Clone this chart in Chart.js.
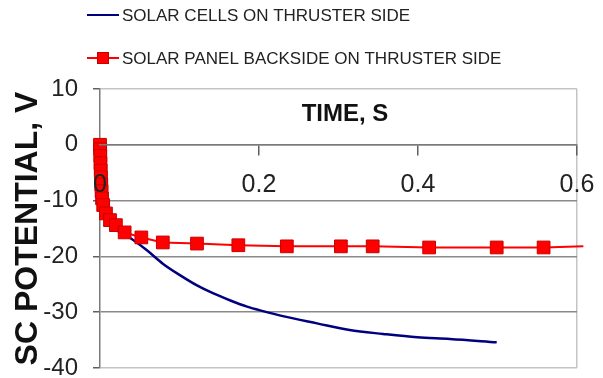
<!DOCTYPE html>
<html>
<head>
<meta charset="utf-8">
<script src="https://cdn.jsdelivr.net/npm/chart.js@4.4.1/dist/chart.umd.min.js"></script>
<style>
  html, body { margin: 0; padding: 0; background: #fff; }
  #wrap { width: 603px; height: 378px; position: relative; }
</style>
</head>
<body>
<div id="wrap"><canvas id="c"></canvas></div>
<script>
// Spacecraft potential after thruster start: solar cells vs. panel backside
const cellsTime = [0, 0.001, 0.002, 0.004, 0.006, 0.01, 0.016, 0.025, 0.038, 0.059, 0.079, 0.101, 0.122, 0.142, 0.164, 0.185, 0.205, 0.23, 0.273, 0.314, 0.356, 0.399, 0.44, 0.499];
const cellsPotential = [0, -3, -6, -9, -11, -13, -14.6, -15.7, -16.7, -18.9, -21.3, -23.4, -25.2, -26.6, -27.9, -29.0, -29.8, -30.7, -32.0, -33.2, -33.9, -34.5, -34.8, -35.4];

const backsideTime = [0, 0.0002, 0.0004, 0.0006, 0.0009, 0.0012, 0.0016, 0.002, 0.0026, 0.004, 0.0075, 0.0126, 0.02, 0.031, 0.052, 0.079, 0.122, 0.174, 0.235, 0.303, 0.343, 0.414, 0.499, 0.558, 0.608];
const backsidePotential = [0, -0.8, -2.0, -3.3, -4.6, -5.8, -7.1, -8.3, -9.6, -10.8, -12.3, -13.5, -14.4, -15.7, -16.6, -17.5, -17.7, -18.0, -18.2, -18.2, -18.2, -18.4, -18.4, -18.4, -18.2];

const timeTicks = [0, 0.2, 0.4, 0.6];
const potentialTicks = [10, 0, -10, -20, -30, -40];
const seriesNames = ['SOLAR CELLS ON THRUSTER SIDE', 'SOLAR PANEL BACKSIDE ON THRUSTER SIDE'];
const timeTitle = 'TIME, S';
const potentialTitle = 'SC POTENTIAL, V';

const FONT = "'Liberation Sans', Arial, sans-serif";
const toPoints = (ts, vs) => ts.map((t, i) => ({ x: t, y: vs[i] }));

// Two-row legend above the plot, one series per row
const stackedLegend = {
  id: 'stackedLegend',
  afterDraw(chart) {
    const ctx = chart.ctx;
    const rowY = [15, 58];
    ctx.save();
    chart.data.datasets.forEach((ds, i) => {
      const y = rowY[i];
      ctx.strokeStyle = ds.borderColor;
      ctx.lineWidth = 2;
      ctx.beginPath();
      ctx.moveTo(87, y);
      ctx.lineTo(119, y);
      ctx.stroke();
      if (ds.pointStyle === 'rect') {
        ctx.fillStyle = ds.pointBackgroundColor;
        ctx.fillRect(97, y - 6, 12, 12);
        ctx.strokeStyle = ds.pointBorderColor;
        ctx.lineWidth = 1;
        ctx.strokeRect(97.5, y - 5.5, 11, 11);
      }
      ctx.fillStyle = '#222';
      ctx.font = '17px ' + FONT;
      ctx.textBaseline = 'middle';
      ctx.textAlign = 'left';
      ctx.fillText(ds.label, 122, y + 1);
    });
    ctx.restore();
  }
};

// Horizontal-axis title placed inside the plot, above the zero line
const timeAxisTitle = {
  id: 'timeAxisTitle',
  afterDraw(chart) {
    const { ctx, chartArea } = chart;
    ctx.save();
    ctx.font = 'bold 24px ' + FONT;
    ctx.fillStyle = '#111';
    ctx.textAlign = 'center';
    ctx.textBaseline = 'middle';
    ctx.fillText(timeTitle, chartArea.left + 245, chartArea.top + 25);
    ctx.restore();
  }
};

new Chart(document.getElementById('c'), {
  type: 'scatter',
  data: {
    datasets: [
      {
        label: seriesNames[0],
        data: toPoints(cellsTime, cellsPotential),
        showLine: true,
        borderColor: '#000080',
        borderWidth: 2.5,
        pointRadius: 0,
        cubicInterpolationMode: 'monotone',
        order: 1,
        clip: false
      },
      {
        label: seriesNames[1],
        data: toPoints(backsideTime, backsidePotential),
        showLine: true,
        borderColor: '#ff0000',
        borderWidth: 2,
        pointStyle: 'rect',
        pointRadius: c => (c.dataIndex === backsideTime.length - 1 ? 0 : 9),
        pointBackgroundColor: '#ff0000',
        pointBorderColor: '#c80000',
        pointBorderWidth: 1,
        order: 0,
        clip: false
      }
    ]
  },
  options: {
    responsive: true,
    maintainAspectRatio: false,
    animation: false,
    devicePixelRatio: 1,
    layout: { padding: { top: 89, right: 26, bottom: 10, left: 0 } },
    plugins: {
      legend: { display: false },
      tooltip: { enabled: false }
    },
    scales: {
      x: {
        type: 'linear',
        position: { y: 0 },
        min: 0,
        max: 0.6,
        afterBuildTicks: s => { s.ticks = timeTicks.map(v => ({ value: v })); },
        afterFit: s => { s.paddingLeft = 0; s.paddingRight = 0; },
        ticks: {
          font: { size: 25, family: FONT },
          color: '#222',
          padding: 15,
          maxRotation: 0,
          autoSkip: false,
          z: 1,
          callback: v => String(v)
        },
        grid: {
          color: c => (c.tick && c.tick.value === 0.6 ? '#c4c4c4' : 'rgba(0,0,0,0)'),
          tickColor: '#606060',
          tickLength: 10,
          lineWidth: 1.5
        },
        border: { color: '#7a7a7a', width: 1.5, z: 1 }
      },
      y: {
        type: 'linear',
        min: -40,
        max: 10,
        afterBuildTicks: s => { s.ticks = potentialTicks.map(v => ({ value: v })); },
        afterFit: s => { s.width = 100; s.paddingTop = 0; s.paddingBottom = 0; },
        ticks: {
          font: { size: 24, family: FONT },
          color: '#222',
          padding: 15
        },
        grid: {
          color: c => (c.tick && (c.tick.value === 10 || c.tick.value === -40) ? '#c4c4c4' : '#8a8a8a'),
          tickColor: '#606060',
          tickLength: 7,
          lineWidth: 1.5
        },
        border: { color: '#7a7a7a', width: 1.5 },
        title: {
          display: true,
          text: potentialTitle,
          font: { size: 32, weight: 'bold', family: FONT, lineHeight: 1 },
          color: '#111',
          padding: { top: 12, bottom: 0 }
        }
      }
    }
  },
  plugins: [stackedLegend, timeAxisTitle]
});
</script>
</body>
</html>
